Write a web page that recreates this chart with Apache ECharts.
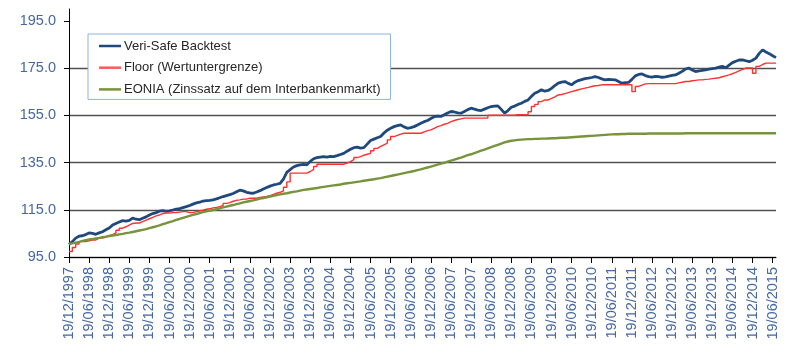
<!DOCTYPE html>
<html>
<head>
<meta charset="utf-8">
<script src="https://cdn.jsdelivr.net/npm/echarts@6/dist/echarts.min.js"></script>
<style>
html,body{margin:0;padding:0;background:#fff;}
#chart{width:800px;height:361px;}
</style>
</head>
<body>
<div id="chart"></div>
<script>
// Monthly samples from 19/12/1997 to 19/07/2015
var startYear = 1997, startMonth = 12, monthCount = 212;

var seriesNames = ['Veri-Safe Backtest', 'Floor (Wertuntergrenze)', 'EONIA (Zinssatz auf dem Interbankenmarkt)'];

var backtest = [
100.3,101.5,103,103.8,104,104.5,105.2,105,104.6,105.2,
105.7,106.5,107.3,108.5,109.2,109.8,110.4,110.2,110.5,111.5,
111,110.8,111.4,112,112.8,113.4,113.8,114.4,114.6,114.3,
114.5,114.9,115.3,115.5,115.9,116.3,116.8,117.4,117.9,118.2,
118.7,118.9,119,119.2,119.6,120.1,120.6,121,121.4,121.9,
122.6,123.3,123,122.4,122.1,122,122.5,123.1,123.8,124.4,
125,125.5,125.8,126.2,128,130.8,132,133.1,133.7,134,
134.2,134,135.5,136.6,137.1,137.3,137.5,137.3,137.6,137.5,
137.9,138.4,138.9,139.8,140.6,141.3,141.5,141.1,141.3,142.8,
144.3,144.9,145.5,146,147.5,148.7,149.5,150.2,150.6,150.9,
150.1,149.5,149.8,150.2,150.9,151.6,152.3,152.8,153.6,154.4,
154.6,154.5,155.2,156,156.6,156.4,156,155.9,156.6,157.4,
158,157.6,157.2,157,157.6,158.2,158.7,158.9,159,157.5,
155.9,157,158.4,158.9,159.6,160.1,160.9,161.5,163,164.3,
165,165.8,165.2,165.5,166.4,167.6,168.6,169,169.3,168.5,
167.9,169,169.7,170.1,170.5,170.7,171,171.4,171,170.4,
170,170.2,170.1,170,169.3,168.6,168.8,168.9,170.2,171.7,
172.3,172.5,171.8,171.4,171.2,171.5,171.4,171.1,171.3,171.6,
171.9,172.1,172.8,173.6,174.6,175,174.2,173.5,173.8,174,
174.2,174.5,174.8,175,175.4,175.7,175.1,176.2,177.3,177.9,
178.4,178.5,178.1,177.7,178.3,179.2,181.2,182.7,181.8,181.1,
180.2,179.4
];

var floorValues = [
97.3,99,100.5,101.5,101.5,101.8,102.2,102.2,103,103,
103.4,104,104.5,105.2,106.3,107.2,107.8,108.5,109.2,109.4,
109.4,110,110.6,111.2,111.8,112.4,112.8,113.4,113.6,113.6,
113.8,113.8,114,114.2,114.2,113.8,113.8,114.2,114.5,114.8,
115.2,115.4,115.8,116,116.3,116.8,117.7,118,118.6,119,
119.2,119.5,119.5,119.9,119.9,119.9,120.2,120.4,120.6,121,
121.5,122,122.4,123,124.5,126.8,130.5,130.5,130.5,130.5,
130.5,131.2,132,133.3,134.3,134.3,134.3,134.3,134.3,134.3,
134.3,134.3,134.8,135.4,136.2,137.1,137.5,138.1,138.5,138.9,
140,141,141.8,142.5,143.2,144.6,146,146.5,147,147.4,
147.4,147.4,147.4,147.4,147.4,148,148.5,148.8,149.5,150.2,
150.6,151.2,151.6,152.3,152.8,153.2,153.5,153.8,153.8,153.8,
153.8,153.8,153.8,153.8,153.8,155,155,155,155,155,
155,155,155,155.2,155.2,155.2,155.2,156.5,158.7,159.6,
160.8,161.5,161.5,162.2,162.8,163.6,163.8,164.2,164.6,165,
165.4,165.8,166.2,166.5,166.8,167.2,167.5,167.6,167.9,167.9,
167.9,167.9,167.9,167.9,167.9,167.9,167.9,167.9,165,167.2,
167.8,168.3,168.4,168.4,168.4,168.4,168.4,168.4,168.4,168.4,
168.4,168.7,169,169.3,169.3,169.6,169.8,170,170,170.2,
170.3,170.5,170.7,170.9,171.3,171.7,172.1,172.6,173.2,173.8,
174.4,175,175,175,172.8,175.7,176.5,177.1,177.1,177.1,
177.1,177.1
];

var eonia = [
100.5,100.8,101.1,101.4,101.8,102.1,102.4,102.6,102.9,103.1,
103.4,103.6,103.9,104.1,104.3,104.6,104.8,105.1,105.3,105.6,
105.9,106.2,106.5,106.8,107.2,107.6,108,108.4,108.9,109.3,
109.8,110.2,110.7,111.1,111.6,112,112.4,112.8,113.2,113.6,
114,114.3,114.6,114.9,115.2,115.6,116,116.3,116.7,117,
117.4,117.7,118.1,118.4,118.7,119,119.3,119.7,120,120.3,
120.6,120.9,121.2,121.5,121.8,122,122.3,122.6,122.8,123.1,
123.4,123.6,123.8,124,124.2,124.5,124.7,124.9,125.1,125.3,
125.5,125.7,126,126.2,126.4,126.6,126.8,127,127.3,127.5,
127.7,127.9,128.2,128.4,128.7,129,129.3,129.6,129.9,130.2,
130.5,130.8,131.1,131.4,131.8,132.1,132.5,132.9,133.3,133.7,
134.1,134.5,134.9,135.4,135.8,136.2,136.7,137.1,137.6,138.1,
138.5,139,139.5,140,140.5,141,141.5,142,142.5,143,
143.5,143.9,144.2,144.4,144.6,144.7,144.8,144.9,144.9,145,
145,145.1,145.1,145.2,145.3,145.3,145.4,145.5,145.5,145.6,
145.7,145.8,145.9,146,146.1,146.2,146.3,146.4,146.5,146.6,
146.7,146.8,146.9,147,147,147.1,147.1,147.2,147.2,147.2,
147.2,147.2,147.2,147.3,147.3,147.3,147.3,147.3,147.3,147.3,
147.3,147.3,147.3,147.3,147.4,147.4,147.4,147.4,147.4,147.4,
147.4,147.4,147.4,147.4,147.4,147.4,147.4,147.4,147.4,147.4,
147.4,147.4,147.4,147.4,147.4,147.4,147.4,147.4,147.4,147.4,
147.4,147.4
];

var yTickValues = [95, 115, 135, 155, 175, 195];

// Category labels (dates)
var dates = [];
for (var i = 0; i < monthCount; i++) {
  var total = startYear * 12 + (startMonth - 1) + i;
  var y = Math.floor(total / 12);
  var mo = total % 12 + 1;
  dates.push('19/' + (mo < 10 ? '0' + mo : mo) + '/' + y);
}

var FONT = "'Liberation Sans', Arial, sans-serif";
var chart = echarts.init(document.getElementById('chart'), null, {renderer: 'canvas'});
chart.setOption({
  animation: false,
  backgroundColor: '#ffffff',
  grid: {left: 69, right: 24, top: 9, bottom: 104, containLabel: false, outerBoundsMode: 'none'},
  legend: {
    orient: 'vertical',
    left: 88,
    top: 34,
    padding: [4, 10, 2, 11],
    itemGap: 5.7,
    itemWidth: 22,
    itemHeight: 2.5,
    icon: 'rect',
    borderColor: '#8db3e2',
    borderWidth: 1,
    backgroundColor: '#ffffff',
    textStyle: {fontFamily: FONT, fontSize: 13, color: '#262626', lineHeight: 16, padding: [0, 0, 0, -2]},
    data: seriesNames
  },
  xAxis: {
    type: 'category',
    data: dates,
    boundaryGap: false,
    axisLine: {show: true, lineStyle: {color: '#000000', width: 1}},
    axisTick: {show: true, interval: 5, length: 6, lineStyle: {color: '#000000'}},
    axisLabel: {interval: 5, rotate: 90, margin: 10, fontFamily: FONT, fontSize: 14.5, color: '#4667a0'},
    splitLine: {show: false}
  },
  yAxis: {
    type: 'value',
    min: 95,
    max: 200,
    interval: 20,
    axisLine: {show: true, lineStyle: {color: '#000000', width: 1}},
    axisTick: {show: true, length: 5, lineStyle: {color: '#000000'}, customValues: yTickValues},
    axisLabel: {
      margin: 13, fontFamily: FONT, fontSize: 14.5, color: '#4667a0',
      customValues: yTickValues,
      formatter: function (v) { return v === 200 ? '' : v.toFixed(1); }
    },
    splitLine: {
      show: true, showMaxLine: false,
      lineStyle: {color: ['#505050', '#505050', '#505050', '#505050', '#505050', '#505050', 'rgba(0,0,0,0)'], width: 1.3}
    }
  },
  series: [
    {name: seriesNames[0], type: 'line', data: backtest, symbol: 'none',
     lineStyle: {color: '#1f497d', width: 2.8}, itemStyle: {color: '#1f497d'}},
    {name: seriesNames[1], type: 'line', data: floorValues, symbol: 'none', step: 'end',
     lineStyle: {color: '#ff3030', width: 1.4}, itemStyle: {color: '#ff5a5a'}},
    {name: seriesNames[2], type: 'line', data: eonia, symbol: 'none',
     lineStyle: {color: '#77933c', width: 2.4}, itemStyle: {color: '#77933c'}}
  ]
});
</script>
</body>
</html>
